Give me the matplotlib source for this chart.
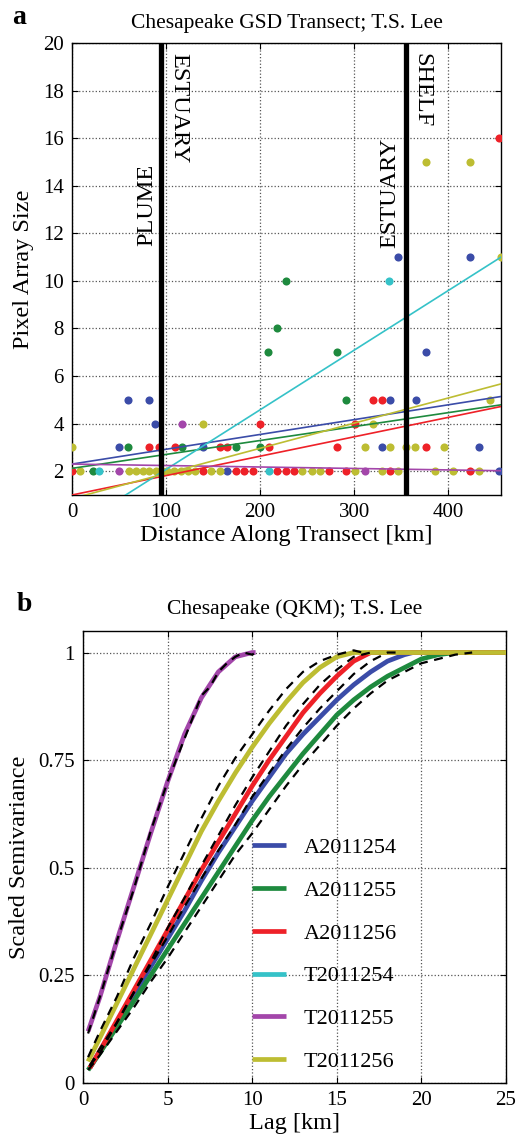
import matplotlib
matplotlib.use("Agg")
import matplotlib.pyplot as plt

plt.rcParams['font.family'] = ['Liberation Serif', 'DejaVu Serif']
plt.rcParams['mathtext.fontset'] = 'stix'

# ---------------- Panel a data ----------------
series_names = ['A2011254', 'A2011255', 'A2011256', 'T2011254', 'T2011255', 'T2011256']
colors = ['#3B4CA8', '#1E8A3E', '#EE2128', '#35C2C8', '#A346AA', '#BDBD32']

blue_x = [165, 454, 50, 139, 329, 433, 88.5, 60, 82, 338, 366, 376, 347, 423]
blue_y = [2, 2, 3, 3, 3, 3, 4, 5, 5, 5, 5, 7, 11, 11]

green_x = [22, 60, 117, 174, 200, 291, 208, 282, 218, 227.5]
green_y = [2, 3, 3, 3, 3, 5, 7, 7, 8, 10]

red_x = [0, 139, 174, 183, 192, 218, 227, 236, 273, 291, 338, 423,
         82, 93, 110, 157, 165, 209, 282, 376, 200, 301, 320, 329, 454]
red_y = [2, 2, 2, 2, 2, 2, 2, 2, 2, 2, 2, 2,
         3, 3, 3, 3, 3, 3, 3, 3, 4, 4, 5, 5, 16]

cyan_x = [29, 209, 337]
cyan_y = [2, 2, 10]

purple_x = [50, 311, 117]
purple_y = [2, 2, 4]

yellow_x = [8, 61, 68, 75, 82, 89, 96, 101.5, 108.6, 116, 123, 130.4, 148, 157,
            245, 255, 264, 301, 329, 346.5, 386, 405, 433,
            0, 311, 338, 355, 365, 395, 139, 320, 444, 456, 376, 423]
yellow_y = [2, 2, 2, 2, 2, 2, 2, 2, 2, 2, 2, 2, 2, 2,
            2, 2, 2, 2, 2, 2, 2, 2, 2,
            3, 3, 3, 3, 3, 3, 4, 4, 5, 11, 15, 15]

scatter_x = [blue_x, green_x, red_x, cyan_x, purple_x, yellow_x]
scatter_y = [blue_y, green_y, red_y, cyan_y, purple_y, yellow_y]

# trend line end points (x = 0 and x = 456 km)
fit_x = [0, 456]
fit_blue = [2.3, 5.14]
fit_green = [2.12, 4.79]
fit_red = [1.0, 4.72]
fit_cyan = [-0.43, 11.0]
fit_purple = [2.3, 2.02]
fit_yellow = [0.85, 5.67]
fit_lines = [fit_blue, fit_green, fit_red, fit_cyan, fit_purple, fit_yellow]

boundaries_km = [95, 355]

# ---------------- Panel b data ----------------
lag_blue = [0.4, 1, 2, 3, 4, 5, 6, 7, 8, 9, 10, 11, 12, 13, 14, 15, 16, 17, 18, 19, 19.5, 25]
sv_blue = [0.035, 0.075, 0.14, 0.205, 0.27, 0.335, 0.40, 0.47, 0.535, 0.595, 0.655, 0.71,
           0.765, 0.81, 0.85, 0.89, 0.925, 0.955, 0.98, 0.995, 1.0, 1.0]
lag_green = [0.3, 1, 2, 3, 4, 5, 6, 7, 8, 9, 10, 11, 12, 13, 14, 15, 16, 17, 18, 19, 20, 21, 22, 25]
sv_green = [0.03, 0.07, 0.13, 0.19, 0.25, 0.31, 0.37, 0.43, 0.49, 0.55, 0.61, 0.665, 0.715,
            0.765, 0.81, 0.855, 0.89, 0.92, 0.945, 0.965, 0.985, 0.995, 1.0, 1.0]
lag_red = [0.4, 1, 2, 3, 4, 5, 6, 7, 8, 9, 10, 11, 12, 13, 14, 15, 16, 17, 25]
sv_red = [0.035, 0.075, 0.145, 0.215, 0.285, 0.355, 0.425, 0.495, 0.56, 0.625, 0.69, 0.75,
          0.805, 0.86, 0.905, 0.945, 0.98, 1.0, 1.0]
lag_cyan = []
sv_cyan = []
lag_purple = [0.3, 1, 2, 3, 4, 5, 6, 7, 8, 9, 10, 10.2]
sv_purple = [0.12, 0.20, 0.33, 0.455, 0.58, 0.70, 0.81, 0.895, 0.955, 0.99, 1.0, 1.0]
lag_yellow = [0.3, 1, 2, 3, 4, 5, 6, 7, 8, 9, 10, 11, 12, 13, 14, 15, 16, 25]
sv_yellow = [0.05, 0.105, 0.185, 0.265, 0.345, 0.425, 0.505, 0.585, 0.655, 0.72, 0.78,
             0.835, 0.885, 0.93, 0.965, 0.99, 1.0, 1.0]

# empirical (dashed)
elag_blue = [0.4, 1, 2, 3, 4, 5, 6, 7, 8, 9, 10, 11, 12, 13, 14, 15, 16, 17, 18, 18.5]
esv_blue = [0.04, 0.08, 0.14, 0.21, 0.275, 0.34, 0.41, 0.475, 0.54, 0.60, 0.665, 0.72,
            0.775, 0.825, 0.87, 0.91, 0.95, 0.98, 1.0, 1.0]
elag_green = [0.3, 1, 2, 3, 4, 5, 6, 7, 8, 9, 10, 11, 12, 13, 14, 15, 16, 17, 18, 19, 20, 21, 22, 23]
esv_green = [0.03, 0.065, 0.12, 0.175, 0.235, 0.29, 0.35, 0.41, 0.47, 0.53, 0.58, 0.635,
             0.69, 0.74, 0.785, 0.83, 0.87, 0.905, 0.935, 0.955, 0.975, 0.985, 0.995, 1.0]
elag_red = [0.4, 1, 2, 3, 4, 5, 6, 7, 8, 9, 10, 11, 12, 13, 14, 15, 16, 17]
esv_red = [0.04, 0.07, 0.14, 0.21, 0.28, 0.36, 0.43, 0.505, 0.575, 0.645, 0.71, 0.77,
           0.83, 0.88, 0.925, 0.96, 0.99, 1.0]
elag_cyan = []
esv_cyan = []
elag_purple = [0.3, 1, 2, 3, 4, 5, 6, 7, 7.5, 8, 8.5, 9, 9.5, 10, 10.2]
esv_purple = [0.115, 0.20, 0.33, 0.45, 0.585, 0.70, 0.80, 0.90, 0.92, 0.955, 0.975, 0.99,
              1.0, 0.995, 1.0]
elag_yellow = [0.3, 1, 2, 3, 4, 5, 6, 7, 8, 9, 10, 11, 12, 13, 14, 15, 16, 16.5]
esv_yellow = [0.06, 0.12, 0.2, 0.29, 0.37, 0.455, 0.535, 0.615, 0.69, 0.755, 0.81, 0.865,
              0.915, 0.955, 0.98, 0.995, 1.005, 1.0]

model_lags = [lag_blue, lag_green, lag_red, lag_cyan, lag_purple, lag_yellow]
model_sv = [sv_blue, sv_green, sv_red, sv_cyan, sv_purple, sv_yellow]
emp_lags = [elag_blue, elag_green, elag_red, elag_cyan, elag_purple, elag_yellow]
emp_sv = [esv_blue, esv_green, esv_red, esv_cyan, esv_purple, esv_yellow]

# ---------------- Figure ----------------
W, H = 517, 1144
fig = plt.figure(figsize=(W / 100, H / 100), dpi=100)

def rect(l, t, r, b):
    return [l / W, 1 - b / H, (r - l) / W, (b - t) / H]

TICK_FS = 15
LABEL_FS = 17.5
TITLE_FS = 15.5

# Panel a
ax1 = fig.add_axes(rect(72, 43, 501, 495))
for xs, ys, c in zip(scatter_x, scatter_y, colors):
    ax1.scatter(xs, ys, s=34, color=c, zorder=3, linewidths=0)
for fl, c in zip(fit_lines, colors):
    ax1.plot(fit_x, fl, color=c, lw=1.2, zorder=4)
for b in boundaries_km:
    ax1.axvline(b, color='black', lw=3.8, zorder=5)
ax1.set_xlim(0, 456)
ax1.set_ylim(1, 20)
ax1.set_xticks([0, 100, 200, 300, 400])
ax1.set_yticks(list(range(2, 21, 2)))
ax1.grid(True, linestyle=':', color='#555555', lw=0.9)
ax1.tick_params(direction='in', top=True, right=True, labelsize=TICK_FS, length=4, pad=6)
ax1.set_xlabel('Distance Along Transect [km]', fontsize=LABEL_FS, labelpad=2)
ax1.set_ylabel('Pixel Array Size', fontsize=LABEL_FS, labelpad=6)
ax1.set_title('Chesapeake GSD Transect; T.S. Lee', fontsize=TITLE_FS, pad=11)
ax1.text(79, 13.2, 'PLUME', rotation=90, ha='center', va='center', fontsize=LABEL_FS, zorder=6)
ax1.text(114, 19.6, 'ESTUARY', rotation=270, ha='center', va='top', fontsize=LABEL_FS, zorder=6)
ax1.text(338, 13.7, 'ESTUARY', rotation=90, ha='center', va='center', fontsize=LABEL_FS, zorder=6)
ax1.text(372, 19.6, 'SHELF', rotation=270, ha='center', va='top', fontsize=LABEL_FS, zorder=6)
for sp in ax1.spines.values():
    sp.set_linewidth(1.0)

# Panel b
ax2 = fig.add_axes(rect(83, 631, 506, 1083))
handles = []
for lx, sv, c, n in zip(model_lags, model_sv, colors, series_names):
    h, = ax2.plot(lx, sv, color=c, lw=3.4, solid_capstyle='butt', label=n, zorder=3)
    handles.append(h)
for lx, sv in zip(emp_lags, emp_sv):
    ax2.plot(lx, sv, color='black', lw=1.6, dashes=(4, 3), zorder=4)
ax2.set_xlim(0, 25)
ax2.set_ylim(0, 1.05)
ax2.set_xticks([0, 5, 10, 15, 20, 25])
ax2.set_yticks([0, 0.25, 0.5, 0.75, 1])
ax2.set_yticklabels(['0', '0.25', '0.5', '0.75', '1'])
ax2.grid(True, linestyle=':', color='#555555', lw=0.9)
ax2.tick_params(direction='in', top=True, right=True, labelsize=TICK_FS, length=4, pad=6)
ax2.set_xlabel('Lag [km]', fontsize=LABEL_FS, labelpad=2)
ax2.set_ylabel('Scaled Semivariance', fontsize=LABEL_FS, labelpad=6)
ax2.set_title('Chesapeake (QKM); T.S. Lee', fontsize=TITLE_FS, pad=12)
leg = ax2.legend(handles=handles, loc='upper left', bbox_to_anchor=(0.40, 0.543),
                 frameon=False, fontsize=16, handlelength=1.5, handletextpad=0.8,
                 labelspacing=1.0, borderpad=0, borderaxespad=0)
for lh in leg.get_lines():
    lh.set_linewidth(3.4)
for sp in ax2.spines.values():
    sp.set_linewidth(1.0)

fig.text(12 / W, 1 - 18 / H, 'a', fontsize=20, fontweight='bold', va='center', ha='left')
fig.text(17 / W, 1 - 604 / H, 'b', fontsize=20, fontweight='bold', va='center', ha='left')

fig.savefig('out.png', dpi=100)
